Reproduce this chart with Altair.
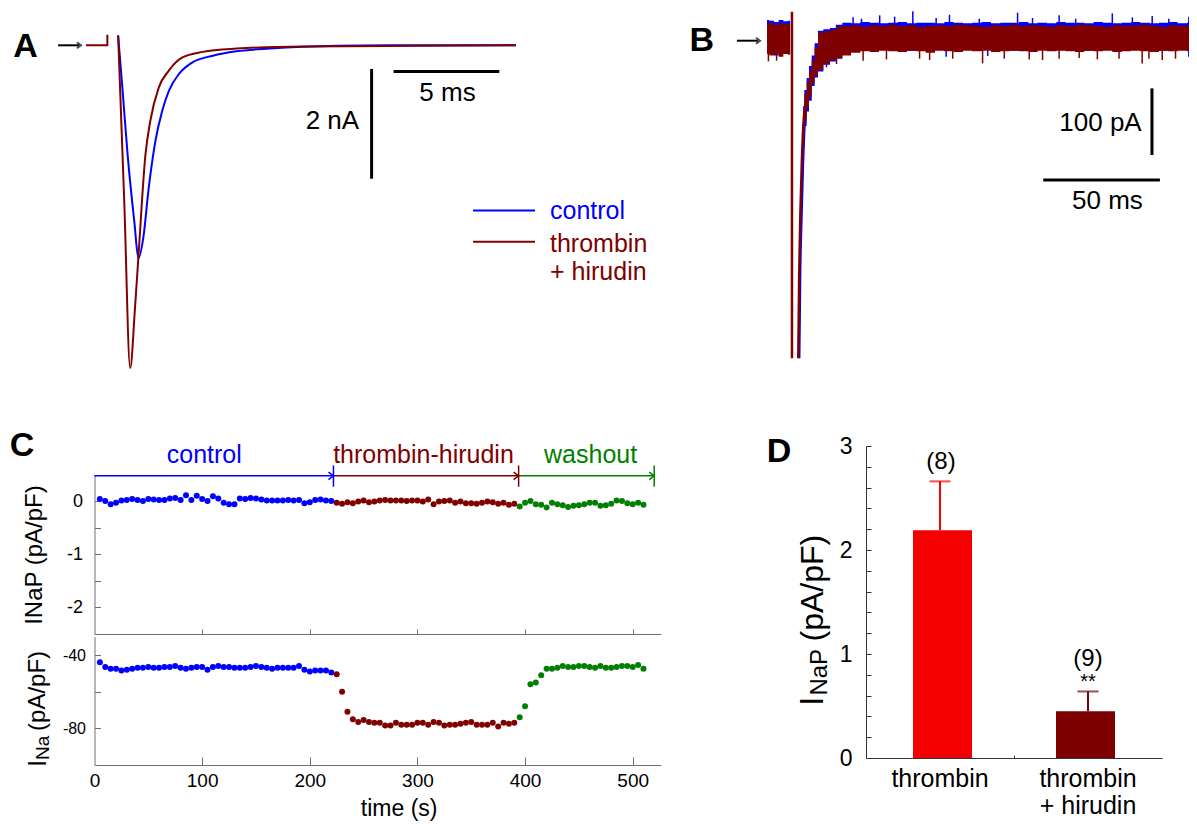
import altair as alt
import pandas as pd

M = 8
W, H = 1181, 813
FONT = "Liberation Sans"
BLUE = "#0000FF"
MAROON = "#800000"
GREEN = "#008000"
BRIGHT = "#F40000"
DARK = "#7D0000"
AXC = "#707070"
AXD = "#333333"

# ---------------- Panel A : whole-cell Na current (ms, nA) ----------------
A_pre_t = [0.0, 1.01, 1.01]
A_pre_v = [0.0, 0.0, 0.19]
A_ctrl_t = [1.52, 1.72, 1.97, 2.29, 2.48, 2.72, 2.96, 3.28, 3.60, 3.92, 4.40, 5.04, 6.00, 7.11, 8.71, 11.9, 15.0, 20.34]
A_ctrl_v = [0.18, -0.77, -2.0, -3.23, -3.88, -3.48, -2.62, -1.75, -1.20, -0.83, -0.52, -0.31, -0.19, -0.11, -0.06, -0.01, 0.0, 0.0]
A_thr_t = [1.52, 1.81, 2.09, 2.32, 2.48, 2.81, 3.04, 3.44, 3.92, 4.56, 5.52, 7.11, 10.31, 20.34]
A_thr_v = [0.18, -2.85, -5.88, -4.77, -3.85, -2.00, -1.38, -0.77, -0.46, -0.22, -0.12, -0.06, -0.02, 0.0]

# ---------------- Panel B : persistent current (ms, pA) ----------------
B_pre_t = [0, 2, 4, 6, 8, 9.9]
B_pre_red_hi = [25, 27, 24, 26, 25, 25]
B_pre_red_lo = [-20, -22, -19, -24, -20, -21]
B_pre_blue_hi = [31, 30, 28, 31, 29, 30]
B_pre_blue_lo = [-18, -17, -22, -18, -19, -20]
B_t = [15.5, 16.5, 17.5, 18.5, 19.8, 21, 22.7, 25.6, 28.4, 30.6, 34, 38, 42, 46, 50, 54, 58, 62, 66, 70,
       74, 78, 82, 86, 90, 94, 98, 102, 106, 110, 114, 118, 122, 126, 130, 134, 138, 142, 146, 150,
       154, 158, 162, 166, 170, 174, 178, 182, 184.3]
B_red_hi = [-105, -80, -62, -45, -30, -10, 12, 14, 16, 21,
            22, 23, 21, 23, 22, 24, 22, 23, 21, 22, 23, 22, 24, 23, 22, 21, 23, 22, 24, 22,
            23, 22, 21, 23, 22, 24, 23, 22, 21, 23, 22, 23, 24, 22, 21, 23, 22, 23, 22]
B_red_lo = [-150, -120, -100, -85, -64, -52, -44, -34, -29, -26,
            -22, -18, -16, -17, -15, -16, -17, -15, -16, -18, -15, -16, -17, -15, -16, -15, -17, -16, -15, -16,
            -17, -15, -16, -15, -16, -17, -15, -16, -15, -17, -16, -15, -16, -17, -15, -16, -15, -16, -16]
B_blue_hi = [-98, -74, -56, -38, -22, -4, 15, 17, 19, 24,
             27, 26, 28, 27, 26, 27, 28, 26, 27, 27, 26, 28, 27, 26, 27, 28, 26, 27, 27, 28,
             26, 27, 26, 28, 27, 27, 26, 28, 27, 26, 27, 28, 27, 26, 27, 28, 26, 27, 27]
B_blue_lo = [-160, -128, -106, -90, -68, -55, -46, -36, -31, -27,
             -20, -15, -14, -15, -14, -13, -14, -15, -14, -14, -13, -15, -14, -14, -15, -13, -14, -14, -15, -14,
             -13, -14, -15, -14, -14, -13, -15, -14, -14, -15, -14, -13, -14, -14, -15, -14, -13, -14, -14]
B_bup_t = [36.9, 40.5, 48.3, 54.7, 62.5, 72.5, 78.2, 91.0, 107.4, 113.8, 125.2, 132.3, 148.0, 156.6, 165.1, 172.2, 180.8]
B_bup_v = [35, 33, 38, 36, 44, 34, 39, 33, 42, 34, 38, 33, 41, 35, 37, 33, 36]
B_rdn_t = [0.6, 4.1, 25.5, 29.8, 41.2, 51.2, 65.4, 69.7, 79.6, 92.4, 101.7, 112.4, 118.1, 125.2, 133.8,
           141.6, 150.9, 160.8, 163.7, 169.4, 175.1]
B_rdn_v = [-31, -30, -40, -35, -30, -28, -27, -29, -27, -34, -27, -28, -29, -27, -26, -28, -27, -34, -27, -29, -27]
B_bdn_t = [76.8, 94.6, 180.8]
B_bdn_v = [-24, -23, -24]
B_red_dec_t = [13.4, 13.8, 14.3, 14.9, 15.6, 16.5, 17.5, 18.5, 19.8, 21.0, 22.7, 25.0, 28.0, 31.0, 35.0]
B_red_dec_v = [-476, -350, -260, -185, -125, -95, -78, -62, -48, -38, -28, -18, -10, -4, 0]
B_blue_dec_t = [13.8, 14.2, 14.8, 15.4, 16.1, 17.0, 18.0, 19.0, 20.3, 21.5, 23.2, 25.5, 28.5, 31.5, 35.5]
B_blue_dec_v = [-476, -350, -260, -185, -125, -95, -78, -62, -48, -38, -28, -18, -10, -4, 0]
B_art_t = [10.7, 10.7]
B_art_v = [43.5, -476]

# ---------------- Panel C : time course (s, pA/pF) ----------------
C_t_ctrl = [5, 10, 15, 20, 25, 30, 35, 40, 45, 50, 55, 60, 65, 70, 75, 80, 85, 90, 95, 100, 105, 110,
            115, 120, 125, 130, 135, 140, 145, 150, 155, 160, 165, 170, 175, 180, 185, 190, 195, 200,
            205, 210, 215, 220]
C_t_thr = [225, 230, 235, 240, 245, 250, 255, 260, 265, 270, 275, 280, 285, 290, 295, 300, 305, 310,
           315, 320, 325, 330, 335, 340, 345, 350, 355, 360, 365, 370, 375, 380, 385, 390]
C_t_wash = [395, 400, 405, 410, 415, 420, 425, 430, 435, 440, 445, 450, 455, 460, 465, 470, 475, 480,
            485, 490, 495, 500, 505, 510]
INaP_ctrl = [0.04, 0.0, -0.06, -0.03, 0.01, 0.02, 0.04, 0.02, 0.0, 0.04, 0.03, 0.02, 0.02, 0.05, 0.06,
             0.02, 0.11, 0.02, 0.10, 0.04, 0.0, 0.09, 0.05, -0.03, -0.06, -0.06, 0.05, 0.04, 0.06, 0.05,
             0.03, 0.01, 0.01, 0.01, 0.01, 0.02, 0.01, 0.02, -0.04, -0.02, 0.02, 0.03, 0.01, 0.0]
INaP_thr = [-0.03, -0.05, -0.02, -0.04, -0.01, 0.01, -0.02, -0.01, 0.01, 0.02, 0.01, 0.01, 0.01, 0.0,
            0.01, 0.01, -0.01, 0.03, -0.06, -0.01, 0.0, 0.01, -0.03, -0.01, -0.04, -0.04, -0.05, -0.03,
            -0.01, -0.02, -0.05, -0.03, -0.07, -0.05]
INaP_wash = [-0.1, -0.03, 0.0, -0.06, -0.07, -0.12, -0.03, -0.06, -0.08, -0.11, -0.09, -0.08, -0.06,
             -0.03, -0.03, -0.09, -0.08, -0.05, 0.01, 0.0, -0.04, -0.06, -0.03, -0.07]
INa_ctrl = [-44, -46.5, -47.5, -47.5, -48.5, -48, -47.5, -47, -47, -46.5, -47, -47, -46.5, -46.5, -46,
            -47, -47.5, -47, -46.5, -46.5, -48, -46.5, -46, -46.5, -46.5, -47, -47, -47, -46.5, -46,
            -46.5, -47, -47.5, -47, -47, -47, -47, -46, -48, -49, -48.5, -48.5, -48.5, -49.5]
INa_thr = [-50.5, -60, -71, -75, -76.5, -75.5, -76.5, -77, -77, -78.5, -78.5, -77, -78, -78, -78, -77,
           -77, -78, -76.5, -77, -78.5, -78, -78, -77.5, -77, -76.5, -78, -78, -78, -77, -79, -77, -77.5, -77]
INa_wash = [-74, -68, -56, -55, -51, -47.5, -47.5, -47, -46, -46.5, -46.5, -46, -46, -46.5, -47, -46,
            -47, -47, -46.5, -46, -46, -46.5, -45.5, -47.5]
C_phases = ["control", "thrombin", "washout"]
C_phase_labels = ["control", "thrombin-hirudin", "washout"]
C_arrow_start = [0, 222, 394]
C_arrow_end = [222, 394, 520]

# ---------------- Panel D : bar chart ----------------
D_groups = ["thrombin", "thrombin + hirudin"]
D_pos = [0.5, 1.5]
D_mean = [2.19, 0.45]
D_err_top = [2.66, 0.64]
D_n = ["(8)", "(9)"]


# ---------------- helpers ----------------
def S(domain, p0, p1):
    return alt.Scale(domain=domain, range=[p0 - M, p1 - M], nice=False, zero=False)


AX, AY = S([0, 20], 86, 508.8), S([-6, 0], 374.7, 45.3)
BX, BY = S([0, 184], 767, 1196.3), S([-480, 0], 360.9, 40.7)
CX = S([0, 526], 94.5, 660.7)
C1Y = S([-2.5, 0.5], 634, 474.5)
C2Y = S([-100, -30], 765, 636.7)
DX, DY = S([0, 2], 866, 1162), S([0, 3], 758, 446)

PHASE = alt.Scale(domain=C_phases, range=[BLUE, MAROON, GREEN])
DCOL = alt.Scale(domain=D_groups, range=[BRIGHT, DARK])
HYPHEN = "'' + datum.value"


def axis(**kw):
    d = dict(grid=False, title=None, labelFont=FONT, labelColor="black", domainColor=AXC,
             tickColor=AXC, labelFlush=False, labelOverlap=False, domainWidth=1, tickWidth=1)
    d.update(kw)
    return alt.Axis(**d)


def base(df, xs, ys, xaxis=None, yaxis=None):
    return alt.Chart(df).encode(
        x=alt.X("x", type="quantitative", scale=xs, axis=xaxis),
        y=alt.Y("y", type="quantitative", scale=ys, axis=yaxis))


def line(xs, ys, t, v, **mk):
    df = pd.DataFrame({"x": t, "y": v, "i": list(range(len(t)))})
    return base(df, xs, ys).mark_line(**mk).encode(order="i:Q")


def area(xs, ys, t, lo, hi, **mk):
    df = pd.DataFrame({"x": t, "y": lo, "y2": hi})
    return base(df, xs, ys).mark_area(**mk).encode(y2=alt.Y2("y2"))


def rules(xs, ys, x0, x1, y0, y1, **mk):
    df = pd.DataFrame({"x": x0, "x2": x1, "y": y0, "y2": y1})
    return base(df, xs, ys).mark_rule(**mk).encode(x2=alt.X2("x2"), y2=alt.Y2("y2"))


def spikes(xs, ys, t, tip, root, **mk):
    df = pd.DataFrame({"x": t, "y": tip})
    return base(df, xs, ys).mark_rule(**mk).encode(y2=alt.datum(root))


def text(xs, ys, x, y, labels, xaxis=None, yaxis=None, **mk):
    mk.setdefault("font", FONT)
    mk.setdefault("baseline", "middle")
    df = pd.DataFrame({"x": x, "y": y, "label": labels})
    return base(df, xs, ys, xaxis, yaxis).mark_text(**mk).encode(text="label:N")


ARROW = "M -1 -0.75 L 0 0 L -1 0.75"


def heads(xs, ys, x, y, **mk):
    df = pd.DataFrame({"x": x, "y": y})
    return base(df, xs, ys).mark_point(shape=ARROW, filled=False, **mk)


layers = []

# ================= Panel A =================
layers += [
    line(AX, AY, A_ctrl_t, A_ctrl_v, color=BLUE, strokeWidth=2, interpolate="monotone"),
    line(AX, AY, A_thr_t, A_thr_v, color=MAROON, strokeWidth=2, interpolate="monotone"),
    line(AX, AY, A_pre_t, A_pre_v, color=MAROON, strokeWidth=2),
    rules(AX, AY, [13.51, 14.55], [13.51, 19.55], [-0.43, -0.475], [-2.43, -0.475], color="black", strokeWidth=3),
    text(AX, AY, [12.92], [-1.38], ["2 nA"], align="right", fontSize=26, color="black"),
    text(AX, AY, [17.1], [-0.86], ["5 ms"], align="center", fontSize=26, color="black"),
    rules(AX, AY, [18.31], [21.24], [-3.01], [-3.01], color=BLUE, strokeWidth=2),
    rules(AX, AY, [18.31], [21.24], [-3.58], [-3.58], color=MAROON, strokeWidth=2),
    text(AX, AY, [21.95], [-3.02], ["control"], align="left", fontSize=25, color=BLUE),
    text(AX, AY, [21.95, 21.95], [-3.62, -4.13], ["thrombin", "+ hirudin"], align="left", fontSize=25, color=MAROON),
    text(AX, AY, [-2.86], [-0.03], ["A"], align="center", fontSize=34, fontWeight="bold", color="black"),
    rules(AX, AY, [-1.32], [-0.33], [0], [0], color="black", strokeWidth=2),
    heads(AX, AY, [-0.24], [0], color="black", size=64, strokeWidth=2),
]

# ================= Panel B =================
layers += [
    area(BX, BY, B_pre_t, B_pre_blue_lo, B_pre_blue_hi, color=BLUE, interpolate="step"),
    area(BX, BY, B_t, B_blue_lo, B_blue_hi, color=BLUE, interpolate="step"),
    spikes(BX, BY, B_bup_t, B_bup_v, 24, color=BLUE, strokeWidth=1.5),
    spikes(BX, BY, B_bdn_t, B_bdn_v, -12, color=BLUE, strokeWidth=1.5),
    line(BX, BY, B_blue_dec_t, B_blue_dec_v, color=BLUE, strokeWidth=2.5, interpolate="monotone"),
    area(BX, BY, B_pre_t, B_pre_red_lo, B_pre_red_hi, color=MAROON, interpolate="step"),
    area(BX, BY, B_t, B_red_lo, B_red_hi, color=MAROON, interpolate="step"),
    line(BX, BY, B_red_dec_t, B_red_dec_v, color=MAROON, strokeWidth=2.5, interpolate="monotone"),
    spikes(BX, BY, B_rdn_t, B_rdn_v, -12, color=MAROON, strokeWidth=1.5),
    rules(BX, BY, B_art_t[:1], B_art_t[1:], B_art_v[:1], B_art_v[1:], color=MAROON, strokeWidth=2.5),
    rules(BX, BY, [165.0, 118.4], [165.0, 168.4], [-71.4, -208.8], [-171.4, -208.8], color="black", strokeWidth=3),
    text(BX, BY, [160.6], [-123.9], ["100 pA"], align="right", fontSize=26, color="black"),
    text(BX, BY, [145.9], [-241], ["50 ms"], align="center", fontSize=26, color="black"),
    text(BX, BY, [-27.9], [-0.45], ["B"], align="center", fontSize=34, fontWeight="bold", color="black"),
    rules(BX, BY, [-12.9], [-3.9], [0], [0], color="black", strokeWidth=2),
    heads(BX, BY, [-3.0], [0], color="black", size=64, strokeWidth=2),
]

# ================= Panel C =================
c1 = pd.DataFrame({"x": C_t_ctrl + C_t_thr + C_t_wash,
                   "y": INaP_ctrl + INaP_thr + INaP_wash,
                   "phase": ["control"] * len(C_t_ctrl) + ["thrombin"] * len(C_t_thr) + ["washout"] * len(C_t_wash)})
c2 = pd.DataFrame({"x": C_t_ctrl + C_t_thr + C_t_wash,
                   "y": INa_ctrl + INa_thr + INa_wash,
                   "phase": c1["phase"]})
col = alt.Color("phase:N", scale=PHASE, legend=None)

c1_xticks = axis(orient="top", offset=-(634 - M), values=[100, 200, 300, 400, 500], labels=False, tickSize=5)
c1_yticks = axis(orient="right", offset=(94.5 - M) - W, values=[0.5, 0, -0.5, -1, -1.5, -2, -2.5], labels=False, tickSize=6)
c1_ylabels = axis(orient="left", offset=-(94.5 - M), values=[0, -1, -2], domain=False, ticks=False, tickSize=0,
                  labelPadding=12, labelFontSize=18, labelExpr=HYPHEN)
c2_xticks = axis(orient="top", offset=-(765 - M), values=[100, 200, 300, 400, 500], labels=False, tickSize=8)
c2_yticks = axis(orient="right", offset=(94.5 - M) - W, values=[-40, -60, -80, -100], labels=False, tickSize=6)
c2_xlabels = axis(orient="bottom", offset=(765 - M) - H, values=[0, 100, 200, 300, 400, 500], domain=False,
                  ticks=False, tickSize=0, labelPadding=6, labelFontSize=19)
c2_ylabels = axis(orient="left", offset=-(94.5 - M), values=[-40, -80], domain=False, ticks=False, tickSize=0,
                  labelPadding=9, labelFontSize=16, labelExpr=HYPHEN)

arr = pd.DataFrame({"x": C_arrow_start, "x2": C_arrow_end, "phase": C_phases})
layers += [
    base(c1, CX, C1Y, c1_xticks, c1_yticks).mark_circle(size=36, opacity=1).encode(color=col),
    base(c2, CX, C2Y, c2_xticks, c2_yticks).mark_circle(size=36, opacity=1).encode(color=col),
    base(c2, CX, C2Y, c2_xlabels, c2_ylabels).mark_point(opacity=0),
    alt.Chart(arr).mark_rule(strokeWidth=1.5).encode(
        x=alt.X("x", type="quantitative", scale=CX, axis=None), x2=alt.X2("x2"),
        y=alt.datum(0.476, scale=C1Y, axis=c1_ylabels), color=col),
    alt.Chart(arr).mark_rule(strokeWidth=1.5).encode(
        x=alt.X("x2", type="quantitative", scale=CX, axis=None),
        y=alt.datum(0.67, scale=C1Y, axis=None), y2=alt.datum(0.27), color=col),
    alt.Chart(arr).mark_point(shape=ARROW, filled=False, size=100, strokeWidth=1.5, opacity=1).encode(
        x=alt.X("x2", type="quantitative", scale=CX, axis=None),
        y=alt.datum(0.476, scale=C1Y, axis=None), color=col),
    alt.Chart(pd.DataFrame({"x": [102, 305.6, 460.9], "y": [0.865] * 3, "label": C_phase_labels,
                            "phase": C_phases})).mark_text(font=FONT, fontSize=25, baseline="middle", align="center").encode(
        x=alt.X("x", type="quantitative", scale=CX, axis=None),
        y=alt.Y("y", type="quantitative", scale=C1Y, axis=None), text="label:N", color=col),
    text(CX, C2Y, [283], [-124.0], ["time (s)"], align="center", fontSize=23, color="black"),
    text(CX, C1Y, [-55.3], [-1.015], ["INaP (pA/pF)"], align="center", angle=270, fontSize=24, color="black"),
    text(CX, C2Y, [-52.5], [-101.1], ["I"], align="left", angle=270, fontSize=26, color="black"),
    text(CX, C2Y, [-47.8], [-97.3], ["Na"], align="left", angle=270, fontSize=19, color="black"),
    text(CX, C2Y, [-52.5], [-81.4], ["(pA/pF)"], align="left", angle=270, fontSize=24, color="black"),
    text(CX, C1Y, [-67.4], [1.03], ["C"], align="center", fontSize=34, fontWeight="bold", color="black"),
]

# ================= Panel D =================
d = pd.DataFrame({"x": D_pos, "y": D_mean, "top": D_err_top, "group": D_groups, "n": D_n})
dcol = alt.Color("group:N", scale=DCOL, legend=None)
d_xaxis = axis(orient="top", offset=-(758 - M), values=[1], labels=False, tickSize=3, domainColor=AXD, tickColor=AXD)
d_yticks = axis(orient="right", offset=(866 - M) - W,
                values=[0, 0.2, 0.4, 0.6, 0.8, 1, 1.2, 1.4, 1.6, 1.8, 2, 2.2, 2.4, 2.6, 2.8, 3],
                labels=False, tickSize=5, domainColor=AXD, tickColor=AXD)
d_ylabels = axis(orient="left", offset=-(866 - M), values=[0, 1, 2, 3], domain=False, ticks=False, tickSize=0,
                 labelPadding=14, labelFontSize=23)
layers += [
    base(d, DX, DY, d_xaxis, d_yticks).mark_bar(size=59).encode(y2=alt.datum(0), color=dcol),
    alt.Chart(d).mark_rule(strokeWidth=2).encode(
        x=alt.X("x", type="quantitative", scale=DX, axis=None),
        y=alt.Y("y", type="quantitative", scale=DY, axis=None), y2=alt.Y2("top"), color=dcol),
    alt.Chart(d).mark_tick(orient="horizontal", size=21, thickness=2).encode(
        x=alt.X("x", type="quantitative", scale=DX, axis=None),
        y=alt.Y("top", type="quantitative", scale=DY, axis=None), color=dcol),
    text(DX, DY, [0.507, 1.5], [2.85, 0.95], D_n, yaxis=d_ylabels, align="center", fontSize=24, color="black"),
    text(DX, DY, [1.5], [0.73], ["**"], align="center", fontSize=20, color="black"),
    text(DX, DY, [0.5, 1.5, 1.5], [-0.2, -0.2, -0.46], ["thrombin", "thrombin", "+ hirudin"],
         align="center", fontSize=25, color="black"),
    text(DX, DY, [-0.358], [0.50], ["I"], align="left", angle=270, fontSize=34, color="black"),
    text(DX, DY, [-0.311], [0.60], ["NaP"], align="left", angle=270, fontSize=24, color="black"),
    text(DX, DY, [-0.358], [1.12], ["(pA/pF)"], align="left", angle=270, fontSize=32, color="black"),
    text(DX, DY, [-0.588], [2.94], ["D"], align="center", fontSize=34, fontWeight="bold", color="black"),
]

chart = alt.layer(*layers).resolve_scale(
    x="independent", y="independent", color="independent"
).properties(
    width=W, height=H, padding=0, autosize=alt.AutoSizeParams(type="none"), background="white"
).configure_view(stroke=None)

chart.save("out.html", embed_options={"renderer": "svg", "actions": False})
